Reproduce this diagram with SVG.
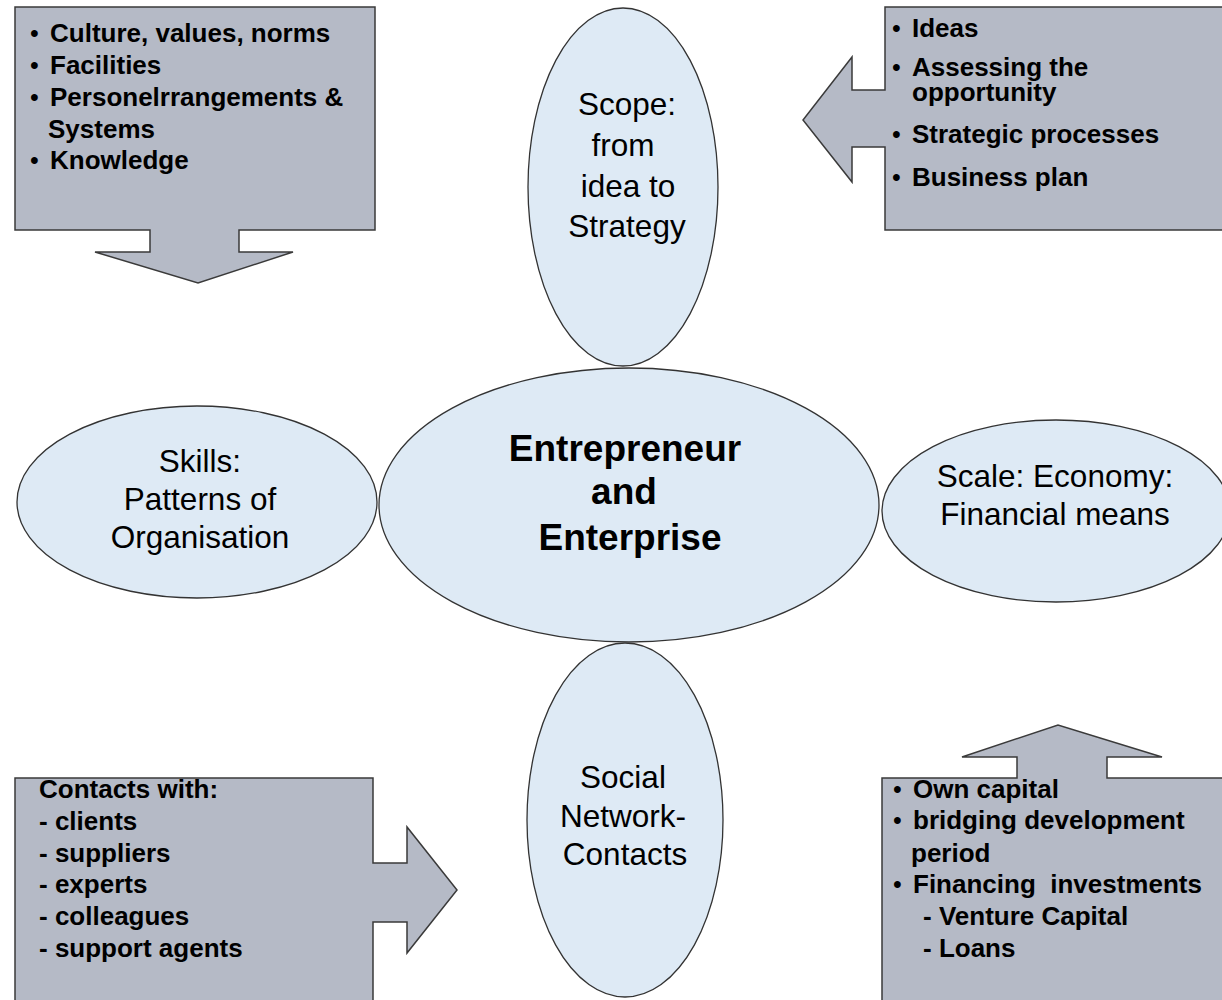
<svg xmlns="http://www.w3.org/2000/svg" width="1222" height="1000" viewBox="0 0 1222 1000">
<style>
.box{fill:#b5bac6;stroke:#3a3a3a;stroke-width:1.5;stroke-linejoin:miter}
.ell{fill:#deeaf5;stroke:#333;stroke-width:1.3}
.bt{font-family:"Liberation Sans",Arial,sans-serif;font-weight:bold;font-size:26px;fill:#000}
.bul{font-family:"Liberation Sans",Arial,sans-serif;font-size:25px;fill:#000}
.et{font-family:"Liberation Sans",Arial,sans-serif;font-size:31.5px;fill:#000;text-anchor:middle}
.ct{font-family:"Liberation Sans",Arial,sans-serif;font-weight:bold;font-size:37px;fill:#000;text-anchor:middle}
</style>
<rect width="1222" height="1000" fill="#ffffff"/>
<g id="connectors">
<g id="arrow-top-left">
<path class="box" d="M15,7 L375,7 L375,230 L239,230 L239,252 L293,252 L198,283 L95,252 L150,252 L150,230 L15,230 Z"/>
<text class="bul" x="30" y="42">•</text><text class="bt" x="50" y="42">Culture, values, norms</text>
<text class="bul" x="30" y="74">•</text><text class="bt" x="50" y="74">Facilities</text>
<text class="bul" x="30" y="106">•</text><text class="bt" x="50" y="106">Personelrrangements &amp;</text>
<text class="bt" x="48" y="138">Systems</text>
<text class="bul" x="30" y="169">•</text><text class="bt" x="50" y="169">Knowledge</text>
</g>
<g id="arrow-top-right">
<path class="box" d="M885,7 L1226,7 L1226,230 L885,230 L885,147 L852,147 L852,182 L803,120 L852,57 L852,90 L885,90 Z"/>
<text class="bul" x="892" y="37">•</text><text class="bt" x="912" y="37">Ideas</text>
<text class="bul" x="892" y="76">•</text><text class="bt" x="912" y="76">Assessing the</text>
<text class="bt" x="912" y="101">opportunity</text>
<text class="bul" x="892" y="143">•</text><text class="bt" x="912" y="143">Strategic processes</text>
<text class="bul" x="892" y="186">•</text><text class="bt" x="912" y="186">Business plan</text>
</g>
<g id="arrow-bottom-left">
<path class="box" d="M15,778 L373,778 L373,863 L407,863 L407,827 L457,890 L407,953 L407,922 L373,922 L373,1005 L15,1005 Z"/>
<text class="bt" x="39" y="798">Contacts with:</text>
<text class="bt" x="39" y="830">- clients</text>
<text class="bt" x="39" y="862">- suppliers</text>
<text class="bt" x="39" y="893">- experts</text>
<text class="bt" x="39" y="925">- colleagues</text>
<text class="bt" x="39" y="957">- support agents</text>
</g>
<g id="arrow-bottom-right">
<path class="box" d="M882,778 L1017,778 L1017,757 L962,757 L1058,725 L1162,757 L1107,757 L1107,778 L1226,778 L1226,1005 L882,1005 Z"/>
<text class="bul" x="893" y="798">•</text><text class="bt" x="913" y="798">Own capital</text>
<text class="bul" x="893" y="829">•</text><text class="bt" x="913" y="829">bridging development</text>
<text class="bt" x="911" y="862">period</text>
<text class="bul" x="893" y="893">•</text><text class="bt" x="913" y="893" xml:space="preserve">Financing  investments</text>
<text class="bt" x="923" y="925">- Venture Capital</text>
<text class="bt" x="923" y="957">- Loans</text>
</g>
</g>
<g id="node-scope">
<ellipse class="ell" cx="623" cy="187" rx="95" ry="179"/>
<text class="et" x="627" y="115">Scope:</text>
<text class="et" x="623" y="156">from</text>
<text class="et" x="628" y="197">idea to</text>
<text class="et" x="627" y="237">Strategy</text>
</g>
<g id="node-center">
<ellipse class="ell" cx="629" cy="505" rx="250" ry="137"/>
<text class="ct" x="625" y="461">Entrepreneur</text>
<text class="ct" x="624" y="504">and</text>
<text class="ct" x="630" y="550">Enterprise</text>
</g>
<g id="node-skills">
<ellipse class="ell" cx="197" cy="502" rx="180" ry="96"/>
<text class="et" x="200" y="472">Skills:</text>
<text class="et" x="200" y="510">Patterns of</text>
<text class="et" x="200" y="548">Organisation</text>
</g>
<g id="node-scale">
<ellipse class="ell" cx="1056" cy="511" rx="174" ry="91"/>
<text class="et" x="1055" y="487">Scale: Economy:</text>
<text class="et" x="1055" y="525">Financial means</text>
</g>
<g id="node-social">
<ellipse class="ell" cx="625" cy="820" rx="98" ry="177"/>
<text class="et" x="623" y="788">Social</text>
<text class="et" x="623" y="827">Network-</text>
<text class="et" x="625" y="865">Contacts</text>
</g>
</svg>
